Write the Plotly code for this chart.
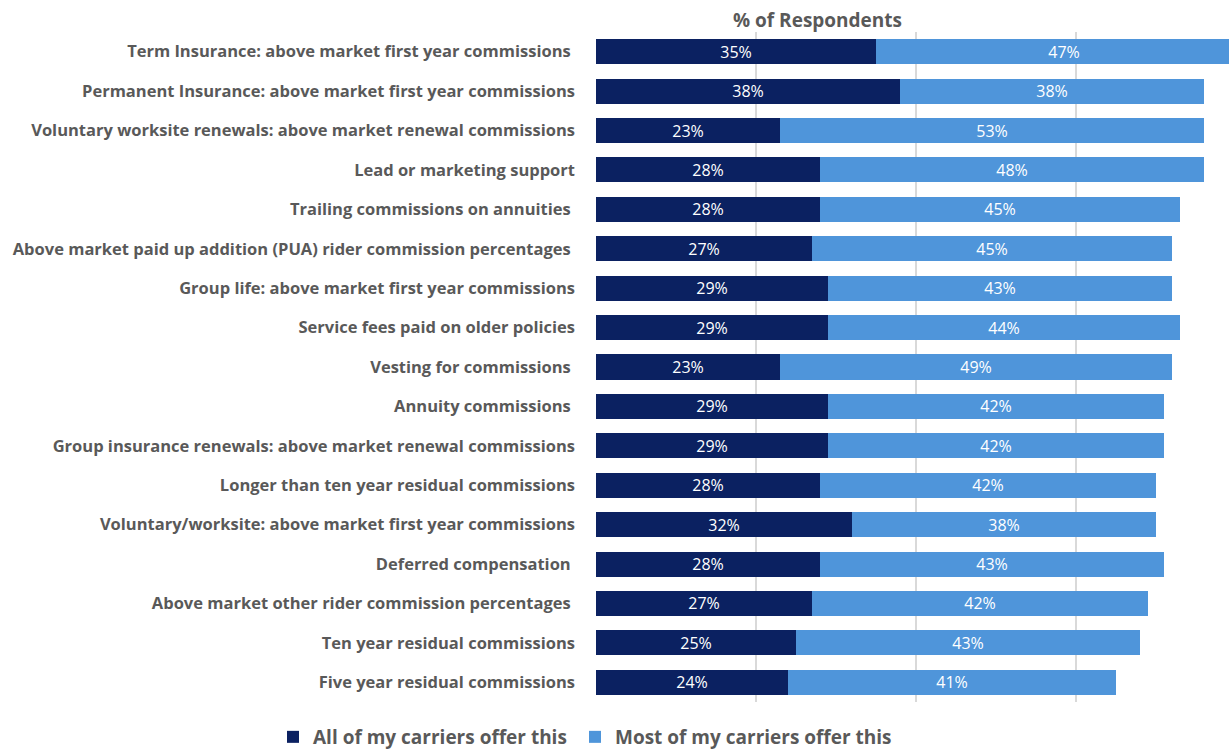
import plotly.graph_objects as go

# Incentive programs, listed top to bottom
categories = [
    "Term Insurance: above market first year commissions ",
    "Permanent Insurance: above market first year commissions",
    "Voluntary worksite renewals: above market renewal commissions",
    "Lead or marketing support",
    "Trailing commissions on annuities ",
    "Above market paid up addition (PUA) rider commission percentages ",
    "Group life: above market first year commissions",
    "Service fees paid on older policies",
    "Vesting for commissions ",
    "Annuity commissions ",
    "Group insurance renewals: above market renewal commissions",
    "Longer than ten year residual commissions",
    "Voluntary/worksite: above market first year commissions",
    "Deferred compensation ",
    "Above market other rider commission percentages ",
    "Ten year residual commissions",
    "Five year residual commissions",
]

# Share of respondents (%)
all_carriers = [35, 38, 23, 28, 28, 27, 29, 29, 23, 29, 29, 28, 32, 28, 27, 25, 24]
most_carriers = [47, 38, 53, 48, 45, 45, 43, 44, 49, 42, 42, 42, 38, 43, 42, 43, 41]

series_names = ["All of my carriers offer this", "Most of my carriers offer this"]
grid_ticks = [0, 20, 40, 60]

DARK = "#0B2161"
LIGHT = "#4F95DA"
GREY_TEXT = "#595959"
FONT = "Open Sans"

W, H = 1229, 752
M_L, M_R, M_T, M_B = 596, 0, 32, 50
px_per_pct = 8.0
x_max = (W - M_L - M_R) / px_per_pct

# keep trailing spaces visible in tick labels
display = [c.rstrip() + "\u00a0" * (len(c) - len(c.rstrip())) for c in categories]

fig = go.Figure()
for name, vals, color, leg in [
    (series_names[0], all_carriers, DARK, "legend"),
    (series_names[1], most_carriers, LIGHT, "legend2"),
]:
    fig.add_trace(go.Bar(
        y=categories,
        x=vals,
        name=name,
        orientation="h",
        legend=leg,
        marker=dict(color=color, line=dict(width=0)),
        text=[f"{v}%" for v in vals],
        textposition="inside",
        insidetextanchor="middle",
        constraintext="none",
        textfont=dict(family=FONT, size=16, color="white"),
        cliponaxis=True,
    ))

legend_common = dict(
    orientation="h",
    xref="container",
    yref="container",
    y=(H - 718) / H,
    xanchor="left",
    yanchor="top",
    font=dict(family=FONT, size=19, color=GREY_TEXT, weight="bold"),
    itemwidth=30,
    bgcolor="rgba(0,0,0,0)",
)

fig.update_layout(
    width=W,
    height=H,
    barmode="stack",
    bargap=0.365,
    plot_bgcolor="white",
    paper_bgcolor="white",
    margin=dict(l=M_L, r=M_R, t=M_T, b=M_B),
    font=dict(family=FONT, color=GREY_TEXT),
    showlegend=True,
    legend=dict(x=273 / W, **legend_common),
    legend2=dict(x=575 / W, **legend_common),
    xaxis=dict(
        range=[0, x_max],
        tickvals=grid_ticks,
        showticklabels=False,
        showgrid=True,
        gridcolor="#D9D9D9",
        gridwidth=1.5,
        zeroline=False,
        showline=False,
        fixedrange=True,
    ),
    yaxis=dict(
        categoryorder="array",
        categoryarray=categories,
        autorange="reversed",
        tickvals=categories,
        ticktext=display,
        tickfont=dict(family=FONT, size=16.5, color=GREY_TEXT, weight="bold"),
        ticklabelstandoff=20,
        showgrid=False,
        showline=False,
        ticks="",
    ),
    annotations=[
        dict(
            text="% of Respondents",
            xref="paper",
            yref="paper",
            x=(817 - M_L) / (W - M_L - M_R),
            y=1.0,
            yshift=12,
            xanchor="center",
            yanchor="middle",
            showarrow=False,
            font=dict(family=FONT, size=19, color=GREY_TEXT, weight="bold"),
        )
    ],
)

fig.write_html("out.html")
